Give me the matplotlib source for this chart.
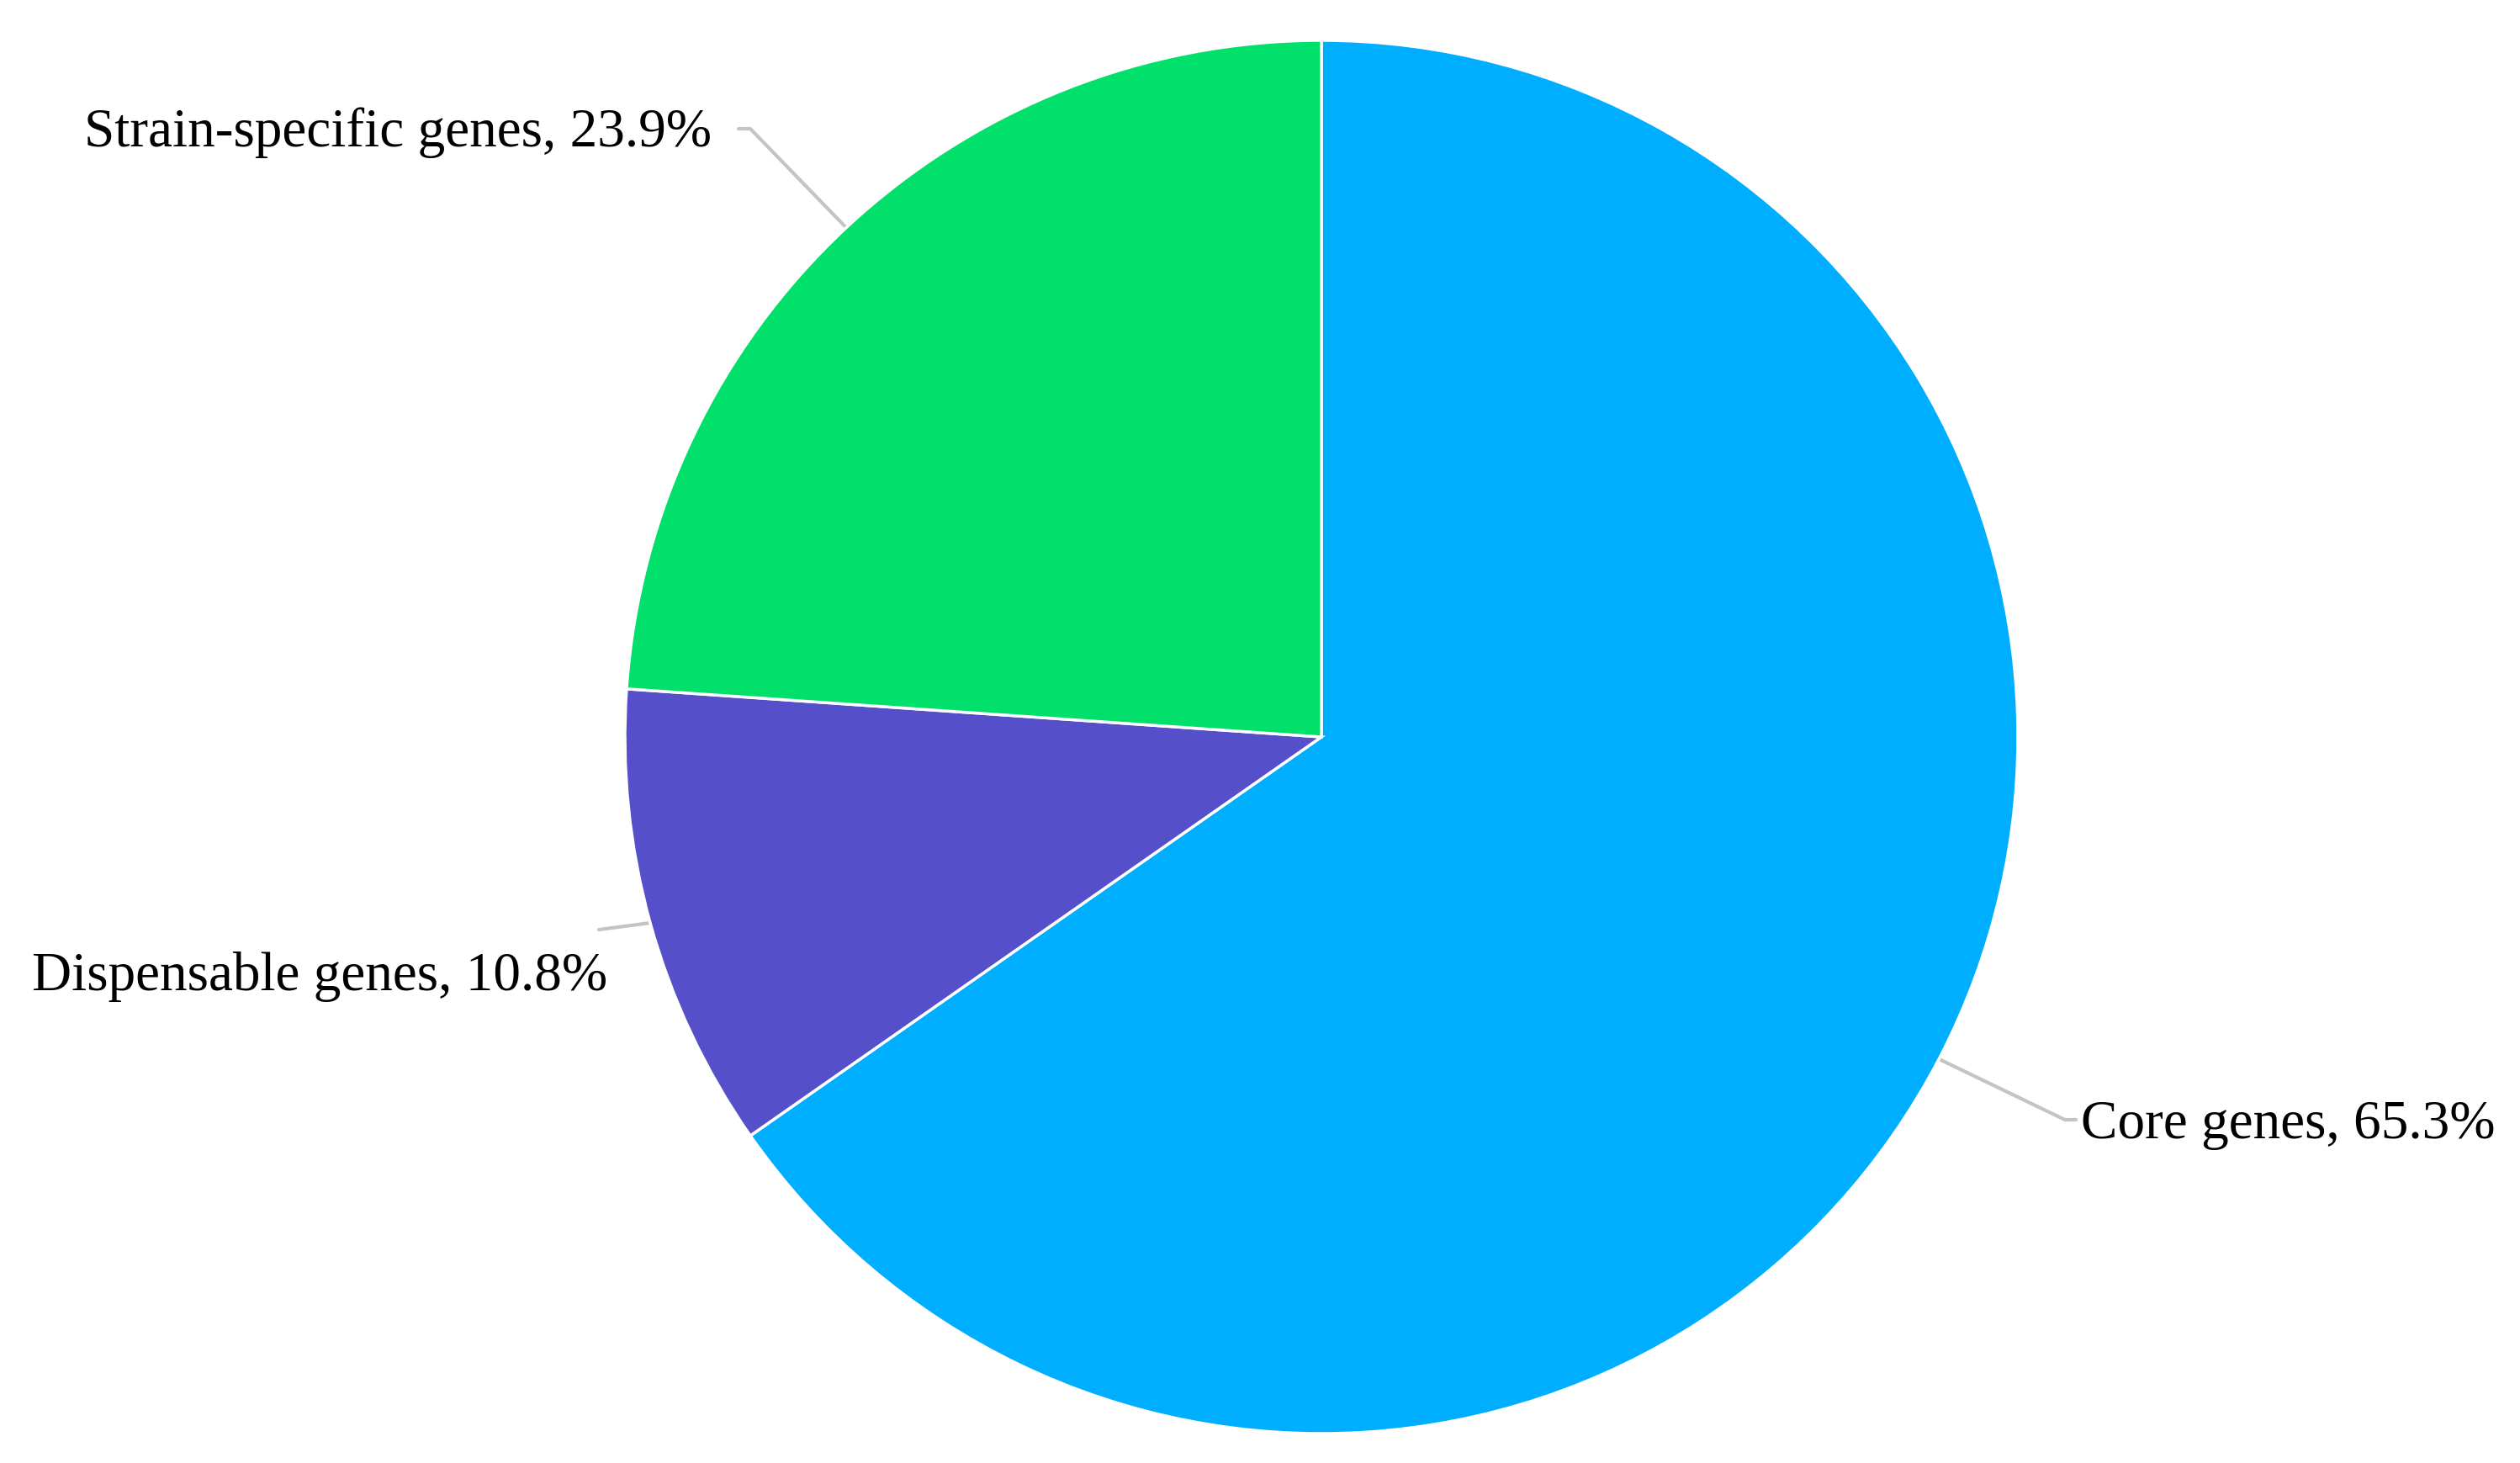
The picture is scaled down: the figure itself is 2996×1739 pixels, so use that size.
"""Pan-genome composition pie chart (core / dispensable / strain-specific)."""

import numpy as np
import matplotlib
matplotlib.use("Agg")
import matplotlib.pyplot as plt

# data, in drawing order (clockwise from 12 o'clock)
CATEGORIES = ["Core genes", "Dispensable genes", "Strain-specific genes"]
PERCENTS = [65.3, 10.8, 23.9]
COLORS = ["#00aeff", "#554fc9", "#00e06a"]

W, H = 2996, 1739
CENTER = (1571, 863)
RADIUS = 828
LINE_COLOR = "#c4c4c4"

# label anchor (x, baseline y, ha) and leader-line elbow, all in pixel coords (y up)
LABEL_POS = {
    "Core genes": ((2474, 386, "left"), [(2455, 408), (2468, 408)]),
    "Dispensable genes": ((722, 562, "right"), [(712, 634)]),
    "Strain-specific genes": ((846, 1565, "right"), [(892, 1586), (878, 1586)]),
}

plt.rcParams["font.family"] = ["Liberation Serif", "DejaVu Serif"]

fig = plt.figure(figsize=(W / 100, H / 100), dpi=100)
ax = fig.add_axes([0, 0, 1, 1])

wedges, _ = ax.pie(PERCENTS, colors=COLORS, startangle=90, counterclock=False,
                   center=CENTER, radius=RADIUS, frame=True,
                   wedgeprops=dict(edgecolor="white", linewidth=2.5))
ax.set_xlim(0, W)
ax.set_ylim(0, H)
ax.set_aspect("equal")
ax.axis("off")

for w, cat, pct in zip(wedges, CATEGORIES, PERCENTS):
    mid = np.deg2rad((w.theta1 + w.theta2) / 2)
    edge = (CENTER[0] + RADIUS * np.cos(mid), CENTER[1] + RADIUS * np.sin(mid))
    (tx, ty, ha), elbow = LABEL_POS[cat]
    pts = [edge] + elbow
    ax.plot([p[0] for p in pts], [p[1] for p in pts], color=LINE_COLOR, lw=3,
            solid_capstyle="round", zorder=0)
    ax.text(tx, ty, f"{cat}, {pct}%", ha=ha, va="baseline", fontsize=47, color="black")

fig.savefig("out.png", dpi=100, facecolor="white")
